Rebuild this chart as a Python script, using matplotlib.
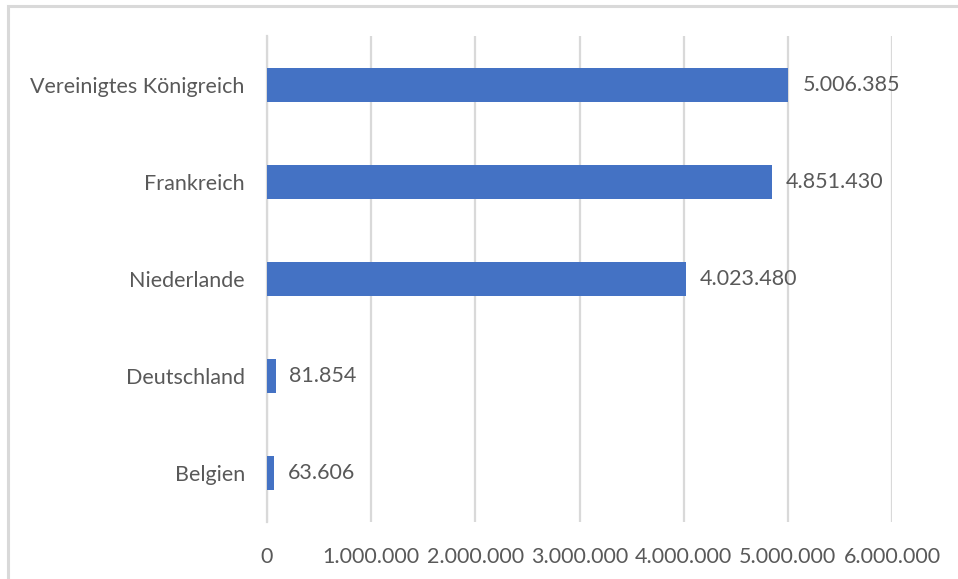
import matplotlib.pyplot as plt
from matplotlib.patches import Rectangle

# ── Data ─────────────────────────────────────────────────────────────────────
countries = ["Belgien", "Deutschland", "Niederlande", "Frankreich",
             "Vereinigtes Königreich"]
values = [63606, 81854, 4023480, 4851430, 5006385]
x_ticks = [0, 1000000, 2000000, 3000000, 4000000, 5000000, 6000000]

BAR_COLOR = "#4472c4"
TEXT_COLOR = "#595959"
GRID_COLOR = "#d9d9d9"
FS = 15.5


def de_format(v):
    return f"{v:,.0f}".replace(",", ".")


plt.rcParams["font.family"] = ["Lato", "DejaVu Sans"]

fig = plt.figure(figsize=(9.58, 5.79), dpi=100)
ax = fig.add_axes([267 / 958, 1 - 522 / 579, (892 - 267) / 958, (522 - 36) / 579])

# outer chart border (only top/left edges visible in the crop)
fig.patches.append(Rectangle((8 / 958, -0.1), 1.2, 1 - 6 / 579 + 0.1,
                             transform=fig.transFigure, fill=False,
                             edgecolor="#d9d9d9", linewidth=2.2))

ypos = range(len(countries))
ax.barh(ypos, values, height=0.35, color=BAR_COLOR, zorder=3)

for y, v in zip(ypos, values):
    ax.annotate(de_format(v), xy=(v, y), xytext=(10, 0),
                textcoords="offset points", ha="left", va="center",
                fontsize=FS, color=TEXT_COLOR)

ax.set_xlim(0, 6000000)
ax.set_ylim(-0.5, len(countries) - 0.5)
ax.set_xticks(x_ticks)
ax.set_xticklabels([de_format(t) for t in x_ticks], fontsize=FS, color=TEXT_COLOR)
ax.set_yticks(list(ypos))
ax.set_yticklabels(countries, fontsize=FS, color=TEXT_COLOR)
ax.tick_params(axis="both", length=0)
ax.tick_params(axis="x", pad=18)
ax.tick_params(axis="y", pad=16)

ax.grid(axis="x", color=GRID_COLOR, linewidth=1.6, zorder=0)
for side in ("top", "right", "bottom"):
    ax.spines[side].set_visible(False)
ax.spines["left"].set_color(GRID_COLOR)
ax.spines["left"].set_linewidth(1.6)

fig.savefig("out.png", dpi=100)
